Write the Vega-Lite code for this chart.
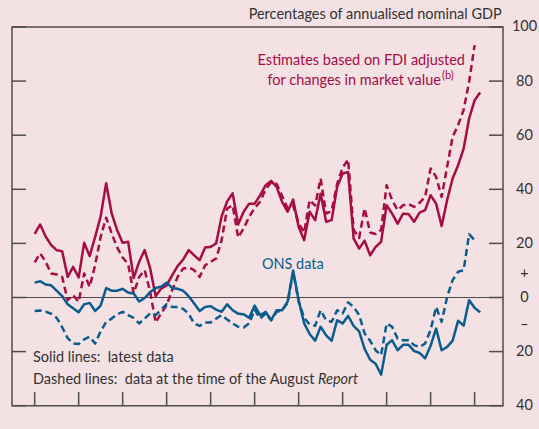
{
"$schema":"https://vega.github.io/schema/vega-lite/v6.json",
"width":491,"height":378.7,
"autosize":{"type":"none"},
"padding":{"left":12,"top":27,"right":36,"bottom":23},
"background":"#f3e1e3",
"config":{"view":{"stroke":"#4d4d4d","strokeWidth":1.5},"font":"Lato","text":{"font":"Lato"}},
"layer":[
{"data":{"values":[{}]},
 "mark":{"type":"rule","color":"#4d4d4d","strokeWidth":1.2},
 "encoding":{"y":{"datum":0,"type":"quantitative","scale":{"domain":[-40,100],"nice":false,"zero":false},
   "axis":{"orient":"left","values":[-40,-20,0,20,40,60,80,100],"labels":false,"ticks":false,"grid":false,"domain":false,"title":null}}}},
{"data":{"values":[
{"s":"FDI latest","t":1997,"v":23.5},{"s":"FDI latest","t":1997.25,"v":27},{"s":"FDI latest","t":1997.5,"v":22.5},{"s":"FDI latest","t":1997.75,"v":19.4},
{"s":"FDI latest","t":1998,"v":17.5},{"s":"FDI latest","t":1998.25,"v":17.1},{"s":"FDI latest","t":1998.5,"v":7.6},{"s":"FDI latest","t":1998.75,"v":11.3},
{"s":"FDI latest","t":1999,"v":7.4},{"s":"FDI latest","t":1999.25,"v":20.2},{"s":"FDI latest","t":1999.5,"v":15.3},{"s":"FDI latest","t":1999.75,"v":22.4},
{"s":"FDI latest","t":2000,"v":30},{"s":"FDI latest","t":2000.25,"v":42.2},{"s":"FDI latest","t":2000.5,"v":31.1},{"s":"FDI latest","t":2000.75,"v":24.9},
{"s":"FDI latest","t":2001,"v":20.2},{"s":"FDI latest","t":2001.25,"v":20.6},{"s":"FDI latest","t":2001.5,"v":7.2},{"s":"FDI latest","t":2001.75,"v":13.2},
{"s":"FDI latest","t":2002,"v":17.5},{"s":"FDI latest","t":2002.25,"v":10.8},{"s":"FDI latest","t":2002.5,"v":0.5},{"s":"FDI latest","t":2002.75,"v":3.3},
{"s":"FDI latest","t":2003,"v":4.5},{"s":"FDI latest","t":2003.25,"v":8.2},{"s":"FDI latest","t":2003.5,"v":11.6},{"s":"FDI latest","t":2003.75,"v":14},
{"s":"FDI latest","t":2004,"v":17.5},{"s":"FDI latest","t":2004.25,"v":15.6},{"s":"FDI latest","t":2004.5,"v":13.8},{"s":"FDI latest","t":2004.75,"v":18.5},
{"s":"FDI latest","t":2005,"v":18.7},{"s":"FDI latest","t":2005.25,"v":20},{"s":"FDI latest","t":2005.5,"v":30},{"s":"FDI latest","t":2005.75,"v":35.5},
{"s":"FDI latest","t":2006,"v":38.5},{"s":"FDI latest","t":2006.25,"v":27},{"s":"FDI latest","t":2006.5,"v":31.7},{"s":"FDI latest","t":2006.75,"v":34.7},
{"s":"FDI latest","t":2007,"v":34.7},{"s":"FDI latest","t":2007.25,"v":37.8},{"s":"FDI latest","t":2007.5,"v":41.5},{"s":"FDI latest","t":2007.75,"v":43.1},
{"s":"FDI latest","t":2008,"v":40.9},{"s":"FDI latest","t":2008.25,"v":35.3},{"s":"FDI latest","t":2008.5,"v":31.7},{"s":"FDI latest","t":2008.75,"v":36.2},
{"s":"FDI latest","t":2009,"v":26.1},{"s":"FDI latest","t":2009.25,"v":21.2},{"s":"FDI latest","t":2009.5,"v":31.7},{"s":"FDI latest","t":2009.75,"v":28.6},
{"s":"FDI latest","t":2010,"v":38.4},{"s":"FDI latest","t":2010.25,"v":28},{"s":"FDI latest","t":2010.5,"v":28.6},{"s":"FDI latest","t":2010.75,"v":40.9},
{"s":"FDI latest","t":2011,"v":45.8},{"s":"FDI latest","t":2011.25,"v":46.4},{"s":"FDI latest","t":2011.5,"v":21.8},{"s":"FDI latest","t":2011.75,"v":18.1},
{"s":"FDI latest","t":2012,"v":21},{"s":"FDI latest","t":2012.25,"v":15.6},{"s":"FDI latest","t":2012.5,"v":18.7},{"s":"FDI latest","t":2012.75,"v":20.6},
{"s":"FDI latest","t":2013,"v":34.1},{"s":"FDI latest","t":2013.25,"v":31},{"s":"FDI latest","t":2013.5,"v":27.3},{"s":"FDI latest","t":2013.75,"v":31},
{"s":"FDI latest","t":2014,"v":30.8},{"s":"FDI latest","t":2014.25,"v":28},{"s":"FDI latest","t":2014.5,"v":31.4},{"s":"FDI latest","t":2014.75,"v":32.3},
{"s":"FDI latest","t":2015,"v":37.8},{"s":"FDI latest","t":2015.25,"v":34.7},{"s":"FDI latest","t":2015.5,"v":26.4},{"s":"FDI latest","t":2015.75,"v":36},
{"s":"FDI latest","t":2016,"v":44},{"s":"FDI latest","t":2016.25,"v":48.9},{"s":"FDI latest","t":2016.5,"v":55},{"s":"FDI latest","t":2016.75,"v":66.2},
{"s":"FDI latest","t":2017,"v":72.9},{"s":"FDI latest","t":2017.25,"v":75.8},
{"s":"FDI August","t":1997,"v":13},{"s":"FDI August","t":1997.25,"v":16.3},{"s":"FDI August","t":1997.5,"v":13.2},{"s":"FDI August","t":1997.75,"v":8.9},
{"s":"FDI August","t":1998,"v":8.5},{"s":"FDI August","t":1998.25,"v":7.6},{"s":"FDI August","t":1998.5,"v":-1},{"s":"FDI August","t":1998.75,"v":0.9},
{"s":"FDI August","t":1999,"v":-1.6},{"s":"FDI August","t":1999.25,"v":8.9},{"s":"FDI August","t":1999.5,"v":3.9},{"s":"FDI August","t":1999.75,"v":12},
{"s":"FDI August","t":2000,"v":22.4},{"s":"FDI August","t":2000.25,"v":29.5},{"s":"FDI August","t":2000.5,"v":23.7},{"s":"FDI August","t":2000.75,"v":18.5},
{"s":"FDI August","t":2001,"v":14.8},{"s":"FDI August","t":2001.25,"v":12.3},{"s":"FDI August","t":2001.5,"v":1.5},{"s":"FDI August","t":2001.75,"v":7.6},
{"s":"FDI August","t":2002,"v":10.1},{"s":"FDI August","t":2002.25,"v":2.1},{"s":"FDI August","t":2002.5,"v":-9.2},{"s":"FDI August","t":2002.75,"v":-5.9},
{"s":"FDI August","t":2003,"v":-2.8},{"s":"FDI August","t":2003.25,"v":2.7},{"s":"FDI August","t":2003.5,"v":7.6},{"s":"FDI August","t":2003.75,"v":10.7},
{"s":"FDI August","t":2004,"v":11.1},{"s":"FDI August","t":2004.25,"v":10.1},{"s":"FDI August","t":2004.5,"v":7.6},{"s":"FDI August","t":2004.75,"v":11.9},
{"s":"FDI August","t":2005,"v":13.2},{"s":"FDI August","t":2005.25,"v":14.4},{"s":"FDI August","t":2005.5,"v":21.2},{"s":"FDI August","t":2005.75,"v":32.9},
{"s":"FDI August","t":2006,"v":34.1},{"s":"FDI August","t":2006.25,"v":22.2},{"s":"FDI August","t":2006.5,"v":25.5},{"s":"FDI August","t":2006.75,"v":29.8},
{"s":"FDI August","t":2007,"v":33},{"s":"FDI August","t":2007.25,"v":35.5},{"s":"FDI August","t":2007.5,"v":40},{"s":"FDI August","t":2007.75,"v":42.5},
{"s":"FDI August","t":2008,"v":42},{"s":"FDI August","t":2008.25,"v":37.5},{"s":"FDI August","t":2008.5,"v":33},{"s":"FDI August","t":2008.75,"v":34},
{"s":"FDI August","t":2009,"v":27.5},{"s":"FDI August","t":2009.25,"v":24},{"s":"FDI August","t":2009.5,"v":36},{"s":"FDI August","t":2009.75,"v":34},
{"s":"FDI August","t":2010,"v":44},{"s":"FDI August","t":2010.25,"v":31},{"s":"FDI August","t":2010.5,"v":32},{"s":"FDI August","t":2010.75,"v":42},
{"s":"FDI August","t":2011,"v":48},{"s":"FDI August","t":2011.25,"v":51},{"s":"FDI August","t":2011.5,"v":25},{"s":"FDI August","t":2011.75,"v":22},
{"s":"FDI August","t":2012,"v":33},{"s":"FDI August","t":2012.25,"v":24},{"s":"FDI August","t":2012.5,"v":23.5},{"s":"FDI August","t":2012.75,"v":25},
{"s":"FDI August","t":2013,"v":41.5},{"s":"FDI August","t":2013.25,"v":36},{"s":"FDI August","t":2013.5,"v":32.3},{"s":"FDI August","t":2013.75,"v":34.1},
{"s":"FDI August","t":2014,"v":34.5},{"s":"FDI August","t":2014.25,"v":33.5},{"s":"FDI August","t":2014.5,"v":35},{"s":"FDI August","t":2014.75,"v":37.2},
{"s":"FDI August","t":2015,"v":47.7},{"s":"FDI August","t":2015.25,"v":44.6},{"s":"FDI August","t":2015.5,"v":37.2},{"s":"FDI August","t":2015.75,"v":48.3},
{"s":"FDI August","t":2016,"v":59.4},{"s":"FDI August","t":2016.25,"v":63.7},{"s":"FDI August","t":2016.5,"v":69.3},{"s":"FDI August","t":2016.75,"v":79.7},
{"s":"FDI August","t":2017,"v":93.3},
{"s":"ONS latest","t":1997,"v":5.5},{"s":"ONS latest","t":1997.25,"v":6},{"s":"ONS latest","t":1997.5,"v":4.8},{"s":"ONS latest","t":1997.75,"v":4.5},
{"s":"ONS latest","t":1998,"v":2.5},{"s":"ONS latest","t":1998.25,"v":0.5},{"s":"ONS latest","t":1998.5,"v":-2.5},{"s":"ONS latest","t":1998.75,"v":-4},
{"s":"ONS latest","t":1999,"v":-5.5},{"s":"ONS latest","t":1999.25,"v":-2.5},{"s":"ONS latest","t":1999.5,"v":-2},{"s":"ONS latest","t":1999.75,"v":-5},
{"s":"ONS latest","t":2000,"v":-3},{"s":"ONS latest","t":2000.25,"v":3.5},{"s":"ONS latest","t":2000.5,"v":2.5},{"s":"ONS latest","t":2000.75,"v":2.5},
{"s":"ONS latest","t":2001,"v":3.2},{"s":"ONS latest","t":2001.25,"v":1.8},{"s":"ONS latest","t":2001.5,"v":1.5},{"s":"ONS latest","t":2001.75,"v":-1.5},
{"s":"ONS latest","t":2002,"v":-0.2},{"s":"ONS latest","t":2002.25,"v":2},{"s":"ONS latest","t":2002.5,"v":3.5},{"s":"ONS latest","t":2002.75,"v":4},
{"s":"ONS latest","t":2003,"v":5.5},{"s":"ONS latest","t":2003.25,"v":3.5},{"s":"ONS latest","t":2003.5,"v":3.2},{"s":"ONS latest","t":2003.75,"v":2.5},
{"s":"ONS latest","t":2004,"v":0.5},{"s":"ONS latest","t":2004.25,"v":-2.2},{"s":"ONS latest","t":2004.5,"v":-5},{"s":"ONS latest","t":2004.75,"v":-3.5},
{"s":"ONS latest","t":2005,"v":-3.2},{"s":"ONS latest","t":2005.25,"v":-4.5},{"s":"ONS latest","t":2005.5,"v":-5.3},{"s":"ONS latest","t":2005.75,"v":-2.5},
{"s":"ONS latest","t":2006,"v":-4.7},{"s":"ONS latest","t":2006.25,"v":-6},{"s":"ONS latest","t":2006.5,"v":-6.2},{"s":"ONS latest","t":2006.75,"v":-7.5},
{"s":"ONS latest","t":2007,"v":-3},{"s":"ONS latest","t":2007.25,"v":-6.5},{"s":"ONS latest","t":2007.5,"v":-5.3},{"s":"ONS latest","t":2007.75,"v":-8.4},
{"s":"ONS latest","t":2008,"v":-4.7},{"s":"ONS latest","t":2008.25,"v":-4.7},{"s":"ONS latest","t":2008.5,"v":-1.5},{"s":"ONS latest","t":2008.75,"v":10},
{"s":"ONS latest","t":2009,"v":-1},{"s":"ONS latest","t":2009.25,"v":-9.5},{"s":"ONS latest","t":2009.5,"v":-13.5},{"s":"ONS latest","t":2009.75,"v":-16},
{"s":"ONS latest","t":2010,"v":-10.8},{"s":"ONS latest","t":2010.25,"v":-14},{"s":"ONS latest","t":2010.5,"v":-16},{"s":"ONS latest","t":2010.75,"v":-8.4},
{"s":"ONS latest","t":2011,"v":-9.6},{"s":"ONS latest","t":2011.25,"v":-6.8},{"s":"ONS latest","t":2011.5,"v":-10.5},{"s":"ONS latest","t":2011.75,"v":-12.5},
{"s":"ONS latest","t":2012,"v":-19},{"s":"ONS latest","t":2012.25,"v":-23},{"s":"ONS latest","t":2012.5,"v":-24.5},{"s":"ONS latest","t":2012.75,"v":-28.5},
{"s":"ONS latest","t":2013,"v":-17.5},{"s":"ONS latest","t":2013.25,"v":-15.8},{"s":"ONS latest","t":2013.5,"v":-19.5},{"s":"ONS latest","t":2013.75,"v":-17.5},
{"s":"ONS latest","t":2014,"v":-17.5},{"s":"ONS latest","t":2014.25,"v":-19.8},{"s":"ONS latest","t":2014.5,"v":-20.5},{"s":"ONS latest","t":2014.75,"v":-22.5},
{"s":"ONS latest","t":2015,"v":-17.8},{"s":"ONS latest","t":2015.25,"v":-11.5},{"s":"ONS latest","t":2015.5,"v":-19.5},{"s":"ONS latest","t":2015.75,"v":-18.3},
{"s":"ONS latest","t":2016,"v":-16},{"s":"ONS latest","t":2016.25,"v":-8.6},{"s":"ONS latest","t":2016.5,"v":-10.4},{"s":"ONS latest","t":2016.75,"v":-1},
{"s":"ONS latest","t":2017,"v":-3.8},{"s":"ONS latest","t":2017.25,"v":-5.5},
{"s":"ONS August","t":1997,"v":-5},{"s":"ONS August","t":1997.25,"v":-4.8},{"s":"ONS August","t":1997.5,"v":-5.2},{"s":"ONS August","t":1997.75,"v":-6},
{"s":"ONS August","t":1998,"v":-7.5},{"s":"ONS August","t":1998.25,"v":-11},{"s":"ONS August","t":1998.5,"v":-15},{"s":"ONS August","t":1998.75,"v":-17},
{"s":"ONS August","t":1999,"v":-17.2},{"s":"ONS August","t":1999.25,"v":-15.5},{"s":"ONS August","t":1999.5,"v":-14.5},{"s":"ONS August","t":1999.75,"v":-17},
{"s":"ONS August","t":2000,"v":-12.5},{"s":"ONS August","t":2000.25,"v":-9},{"s":"ONS August","t":2000.5,"v":-7.8},{"s":"ONS August","t":2000.75,"v":-6.2},
{"s":"ONS August","t":2001,"v":-5.3},{"s":"ONS August","t":2001.25,"v":-6.5},{"s":"ONS August","t":2001.5,"v":-7.5},{"s":"ONS August","t":2001.75,"v":-9.6},
{"s":"ONS August","t":2002,"v":-7.8},{"s":"ONS August","t":2002.25,"v":-5.9},{"s":"ONS August","t":2002.5,"v":-6.5},{"s":"ONS August","t":2002.75,"v":-4.5},
{"s":"ONS August","t":2003,"v":-2.5},{"s":"ONS August","t":2003.25,"v":-3.5},{"s":"ONS August","t":2003.5,"v":-3.5},{"s":"ONS August","t":2003.75,"v":-4.2},
{"s":"ONS August","t":2004,"v":-6},{"s":"ONS August","t":2004.25,"v":-9.6},{"s":"ONS August","t":2004.5,"v":-10.5},{"s":"ONS August","t":2004.75,"v":-9.2},
{"s":"ONS August","t":2005,"v":-9.2},{"s":"ONS August","t":2005.25,"v":-7.8},{"s":"ONS August","t":2005.5,"v":-6.5},{"s":"ONS August","t":2005.75,"v":-8.1},
{"s":"ONS August","t":2006,"v":-9.6},{"s":"ONS August","t":2006.25,"v":-10.8},{"s":"ONS August","t":2006.5,"v":-11.1},{"s":"ONS August","t":2006.75,"v":-9.6},
{"s":"ONS August","t":2007,"v":-4.5},{"s":"ONS August","t":2007.25,"v":-7.8},{"s":"ONS August","t":2007.5,"v":-5.9},{"s":"ONS August","t":2007.75,"v":-8.4},
{"s":"ONS August","t":2008,"v":-5.3},{"s":"ONS August","t":2008.25,"v":-4.7},{"s":"ONS August","t":2008.5,"v":-2},{"s":"ONS August","t":2008.75,"v":9.5},
{"s":"ONS August","t":2009,"v":-1.5},{"s":"ONS August","t":2009.25,"v":-7.5},{"s":"ONS August","t":2009.5,"v":-10},{"s":"ONS August","t":2009.75,"v":-10.5},
{"s":"ONS August","t":2010,"v":-4.7},{"s":"ONS August","t":2010.25,"v":-8.4},{"s":"ONS August","t":2010.5,"v":-9},{"s":"ONS August","t":2010.75,"v":-4.7},
{"s":"ONS August","t":2011,"v":-5.9},{"s":"ONS August","t":2011.25,"v":-1.8},{"s":"ONS August","t":2011.5,"v":-3.5},{"s":"ONS August","t":2011.75,"v":-6.5},
{"s":"ONS August","t":2012,"v":-13.3},{"s":"ONS August","t":2012.25,"v":-16},{"s":"ONS August","t":2012.5,"v":-19.5},{"s":"ONS August","t":2012.75,"v":-21.3},
{"s":"ONS August","t":2013,"v":-9.6},{"s":"ONS August","t":2013.25,"v":-10.8},{"s":"ONS August","t":2013.5,"v":-15.2},{"s":"ONS August","t":2013.75,"v":-15.8},
{"s":"ONS August","t":2014,"v":-15.8},{"s":"ONS August","t":2014.25,"v":-17.6},{"s":"ONS August","t":2014.5,"v":-18.3},{"s":"ONS August","t":2014.75,"v":-17},
{"s":"ONS August","t":2015,"v":-12},{"s":"ONS August","t":2015.25,"v":-3.5},{"s":"ONS August","t":2015.5,"v":-9},{"s":"ONS August","t":2015.75,"v":0.2},
{"s":"ONS August","t":2016,"v":6.4},{"s":"ONS August","t":2016.25,"v":9.5},{"s":"ONS August","t":2016.5,"v":10.1},{"s":"ONS August","t":2016.75,"v":23.4},
{"s":"ONS August","t":2017,"v":21.2}
]},
 "mark":{"type":"line","strokeWidth":2.5,"strokeJoin":"round"},
 "encoding":{
  "x":{"field":"t","type":"quantitative","scale":{"domain":[1995.97,2018.29],"nice":false,"zero":false},
   "axis":{"values":[1997,1999,2001,2003,2005,2007,2009,2011,2013,2015,2017],"labelExpr":"datum.value == 1997 || datum.value == 2001 ? '' + datum.value : slice('' + datum.value, 2)","ticks":false,"grid":false,"labelAlign":"left","labelPadding":6,"labelFontSize":14.5,"labelColor":"#333333","labelFont":"Lato","domain":false,"title":null}},
  "y":{"field":"v","type":"quantitative","scale":{"domain":[-40,100],"nice":false,"zero":false},
   "axis":{"orient":"right","values":[-40,-20,-10,0,9,20,40,60,80,100],"labelExpr":"datum.value == 9 ? '+' : datum.value == -10 ? '–' : '' + abs(datum.value)","ticks":false,"grid":false,"labelAlign":"center","labelPadding":21,"labelFontSize":14.5,"labelColor":"#333333","labelFont":"Lato","domain":false,"title":null}},
  "color":{"field":"s","type":"nominal","scale":{"domain":["FDI August","FDI latest","ONS August","ONS latest"],"range":["#a50d43","#a50d43","#0b5c8e","#0b5c8e"]},"legend":null},
  "strokeDash":{"field":"s","type":"nominal","scale":{"domain":["FDI August","FDI latest","ONS August","ONS latest"],"range":[[7,4],[1,0],[7,4],[1,0]]},"legend":null}
 }},
{"data":{"values":[{"t":1997},{"t":1999},{"t":2001},{"t":2003},{"t":2005},{"t":2007},{"t":2009},{"t":2011},{"t":2013},{"t":2015},{"t":2017}]},
 "mark":{"type":"tick","orient":"vertical","size":14,"thickness":1.5,"color":"#4d4d4d","opacity":1},
 "encoding":{"x":{"field":"t","type":"quantitative","scale":{"domain":[1995.97,2018.29],"nice":false,"zero":false},
   "axis":{"values":[1997,1999,2001,2003,2005,2007,2009,2011,2013,2015,2017],"labelExpr":"datum.value == 1997 || datum.value == 2001 ? '' + datum.value : slice('' + datum.value, 2)","ticks":false,"grid":false,"labelAlign":"left","labelPadding":6,"labelFontSize":14.5,"labelColor":"#333333","labelFont":"Lato","domain":false,"title":null}},
  "y":{"datum":-37.5,"type":"quantitative","axis":null}}},
{"data":{"values":[{"q":-40},{"q":-20},{"q":0},{"q":20},{"q":40},{"q":60},{"q":80},{"q":100}]},
 "mark":{"type":"tick","orient":"horizontal","size":14,"thickness":1.5,"color":"#4d4d4d","opacity":1},
 "encoding":{"y":{"field":"q","type":"quantitative","axis":null},"x":{"datum":1996.288,"type":"quantitative","axis":null}}},
{"data":{"values":[{"q":-40},{"q":-20},{"q":0},{"q":20},{"q":40},{"q":60},{"q":80},{"q":100}]},
 "mark":{"type":"tick","orient":"horizontal","size":14,"thickness":1.5,"color":"#4d4d4d","opacity":1},
 "encoding":{"y":{"field":"q","type":"quantitative","axis":null},"x":{"datum":2017.972,"type":"quantitative","axis":null}}},
{"data":{"values":[{"label":"Percentages of annualised nominal GDP"}]},
 "mark":{"type":"text","align":"right","baseline":"middle","fontSize":14.5,"color":"#333333","font":"Lato"},
 "encoding":{"text":{"field":"label"},"x":{"datum":2018.23,"type":"quantitative","axis":null},"y":{"datum":104.4,"type":"quantitative","axis":null}}},
{"data":{"values":[{"label":"Estimates based on FDI adjusted"}]},
 "mark":{"type":"text","align":"right","baseline":"middle","fontSize":14.5,"color":"#a50d43","font":"Lato"},
 "encoding":{"text":{"field":"label"},"x":{"datum":2016.56,"type":"quantitative","axis":null},"y":{"datum":87.4,"type":"quantitative","axis":null}}},
{"data":{"values":[{"label":"for changes in market value"}]},
 "mark":{"type":"text","align":"right","baseline":"middle","fontSize":14.5,"color":"#a50d43","font":"Lato"},
 "encoding":{"text":{"field":"label"},"x":{"datum":2015.47,"type":"quantitative","axis":null},"y":{"datum":80.1,"type":"quantitative","axis":null}}},
{"data":{"values":[{"label":"(b)"}]},
 "mark":{"type":"text","align":"left","baseline":"middle","fontSize":11,"color":"#a50d43","font":"Lato"},
 "encoding":{"text":{"field":"label"},"x":{"datum":2015.52,"type":"quantitative","axis":null},"y":{"datum":81.8,"type":"quantitative","axis":null}}},
{"data":{"values":[{"label":"ONS data"}]},
 "mark":{"type":"text","align":"left","baseline":"middle","fontSize":14.5,"color":"#0b5c8e","font":"Lato"},
 "encoding":{"text":{"field":"label"},"x":{"datum":2007.33,"type":"quantitative","axis":null},"y":{"datum":12,"type":"quantitative","axis":null}}},
{"data":{"values":[{"label":"Solid lines:\u00a0 latest data"}]},
 "mark":{"type":"text","align":"left","baseline":"middle","fontSize":14.5,"color":"#333333","font":"Lato"},
 "encoding":{"text":{"field":"label"},"x":{"datum":1996.925,"type":"quantitative","axis":null},"y":{"datum":-22.4,"type":"quantitative","axis":null}}},
{"data":{"values":[{"label":"Dashed lines:\u00a0 data at the time of the August"}]},
 "mark":{"type":"text","align":"left","baseline":"middle","fontSize":14.5,"color":"#333333","font":"Lato"},
 "encoding":{"text":{"field":"label"},"x":{"datum":1996.925,"type":"quantitative","axis":null},"y":{"datum":-30.6,"type":"quantitative","axis":null}}},
{"data":{"values":[{"label":"Report"}]},
 "mark":{"type":"text","align":"left","baseline":"middle","fontSize":14.5,"fontStyle":"italic","color":"#333333","font":"Lato"},
 "encoding":{"text":{"field":"label"},"x":{"datum":2009.88,"type":"quantitative","axis":null},"y":{"datum":-30.6,"type":"quantitative","axis":null}}}
],
"resolve":{"axis":{"y":"independent"}}
}
